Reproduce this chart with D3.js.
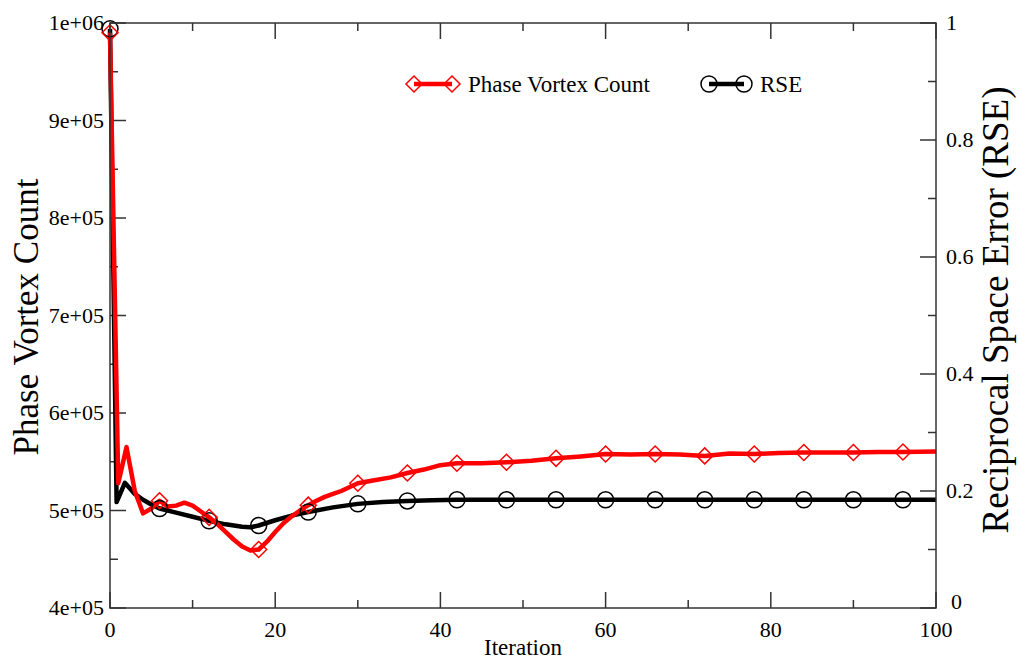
<!DOCTYPE html>
<html><head><meta charset="utf-8">
<script src="https://cdn.jsdelivr.net/npm/d3@7/dist/d3.min.js"></script>
<style>html,body{margin:0;padding:0;background:#fff;}svg{display:block;}svg text{font-family:"Liberation Serif","DejaVu Serif",serif;}</style>
</head><body>
<svg id="chart" width="1018" height="659"></svg>
<script>
// ---- data ----
const pvcIter = [0,1,2,3,4,5,6,7,8,9,10,11,12,13,14,15,16,17,18,19,20,21,22,23,24,25,26,27,28,30,32,34,36,38,40,42,45,48,51,54,57,60,63,66,69,72,75,78,81,84,87,90,93,96,100];
const pvcVal  = [990000,528000,565000,520000,497000,502000,510000,504000,505000,508000,505000,499000,493000,486000,478000,470000,463000,459000,460000,468000,478000,487000,494000,500000,505500,510000,514000,517000,520000,528000,531000,534000,538500,542000,546500,548500,548500,549500,551000,553500,555500,558000,557500,558000,557500,556000,558500,558000,559000,559500,559500,559500,560000,560000,560500];
const rseIter = [0,0.8,1.8,3,4,5,6,8,10,12,14,16,17,18,20,22,24,27,30,33,36,39,42,48,54,60,66,72,78,84,90,96,100];
const rseVal  = [0.99,0.181,0.214,0.195,0.185,0.177,0.170,0.163,0.156,0.149,0.143,0.139,0.138,0.141,0.150,0.158,0.164,0.172,0.178,0.181,0.183,0.184,0.185,0.185,0.185,0.185,0.185,0.185,0.185,0.185,0.185,0.185,0.185];
const markerStep = 6;
const xTicks = [0,20,40,60,80,100];
const yLeftTicks = [400000,500000,600000,700000,800000,900000,1000000];
const yLeftLabels = ["4e+05","5e+05","6e+05","7e+05","8e+05","9e+05","1e+06"];
const yRightTicks = [0,0.2,0.4,0.6,0.8,1];
const yRightLabels = ["0","0.2","0.4","0.6","0.8","1"];
const seriesNames = ["Phase Vortex Count","RSE"];
const axisTitles = {x:"Iteration", yLeft:"Phase Vortex Count", yRight:"Reciprocal Space Error (RSE)"};

// ---- layout ----
const FONT = "Liberation Serif";
const L=110, R=936, T=23, B=608;
const svg = d3.select("#chart");
const x = d3.scaleLinear().domain([0,100]).range([L,R]);
const yL = d3.scaleLinear().domain([400000,1000000]).range([B,T]);
const yR = d3.scaleLinear().domain([0,1]).range([B,T]);
const frameColor = "#333";
const major = 16, minor = 8;

// ticks
const g = svg.append("g").attr("stroke",frameColor).attr("stroke-width",1.5);
function tickLines(vals, fn, len){ vals.forEach(v=>fn(v,len)); }
const xMinor = d3.range(10,100,20);
tickLines(xTicks, (v,l)=>{ g.append("line").attr("x1",x(v)).attr("x2",x(v)).attr("y1",B).attr("y2",B-l);
  g.append("line").attr("x1",x(v)).attr("x2",x(v)).attr("y1",T).attr("y2",T+l);}, major);
tickLines(xMinor, (v,l)=>{ g.append("line").attr("x1",x(v)).attr("x2",x(v)).attr("y1",B).attr("y2",B-l);
  g.append("line").attr("x1",x(v)).attr("x2",x(v)).attr("y1",T).attr("y2",T+l);}, minor);
tickLines(yLeftTicks, (v,l)=>g.append("line").attr("x1",L).attr("x2",L+l).attr("y1",yL(v)).attr("y2",yL(v)), major);
tickLines(d3.range(450000,1000000,100000), (v,l)=>g.append("line").attr("x1",L).attr("x2",L+l).attr("y1",yL(v)).attr("y2",yL(v)), minor);
tickLines(yRightTicks, (v,l)=>g.append("line").attr("x1",R).attr("x2",R-l).attr("y1",yR(v)).attr("y2",yR(v)), major);
tickLines(d3.range(0.1,1,0.2), (v,l)=>g.append("line").attr("x1",R).attr("x2",R-l).attr("y1",yR(v)).attr("y2",yR(v)), minor);

// series
const pvc = pvcIter.map((it,i)=>({x:it,y:pvcVal[i]}));
const rse = rseIter.map((it,i)=>({x:it,y:rseVal[i]}));
const lineL = d3.line().x(d=>x(d.x)).y(d=>yL(d.y));
const lineR = d3.line().x(d=>x(d.x)).y(d=>yR(d.y));

svg.append("path").datum(rse).attr("d",lineR).attr("fill","none").attr("stroke","#000").attr("stroke-width",4.5).attr("stroke-linejoin","round");
svg.append("path").datum(pvc).attr("d",lineL).attr("fill","none").attr("stroke","#f00").attr("stroke-width",4.5).attr("stroke-linejoin","round");

const diamond = (cx,cy,s)=>`M${cx},${cy-s}L${cx+s},${cy}L${cx},${cy+s}L${cx-s},${cy}Z`;
svg.append("g").selectAll("circle").data(rse.filter(d=>d.x%markerStep===0)).join("circle")
  .attr("cx",d=>x(d.x)).attr("cy",d=>yR(d.y)).attr("r",8).attr("fill","none").attr("stroke","#000").attr("stroke-width",1.5);
svg.append("g").selectAll("path").data(pvc.filter(d=>d.x%markerStep===0)).join("path")
  .attr("d",d=>diamond(x(d.x),yL(d.y),8)).attr("fill","none").attr("stroke","#f00").attr("stroke-width",1.5);

// frame
svg.append("rect").attr("x",L).attr("y",T).attr("width",R-L).attr("height",B-T).attr("fill","none").attr("stroke",frameColor).attr("stroke-width",1.5);

// tick labels
const fs = 22;
const txt = (sel)=>sel.attr("font-family",FONT).attr("fill","#000");
txt(svg.append("g").selectAll("text").data(xTicks).join("text").attr("x",d=>x(d)).attr("y",B+29)
  .attr("text-anchor","middle").attr("font-size",fs).text(d=>d));
txt(svg.append("g").selectAll("text").data(yLeftTicks).join("text").attr("x",L-6).attr("y",d=>yL(d)+7)
  .attr("text-anchor","end").attr("font-size",fs).text((d,i)=>yLeftLabels[i]));
txt(svg.append("g").selectAll("text").data(yRightTicks).join("text").attr("x",(d,i)=>R+10+(i===0?5:0)).attr("y",(d,i)=>yR(d)+7-(i===0?6:0))
  .attr("text-anchor","start").attr("font-size",fs).text((d,i)=>yRightLabels[i]));

// axis titles
txt(svg.append("text").attr("x",x(50)).attr("y",655).attr("text-anchor","middle").attr("font-size",23).text(axisTitles.x));
txt(svg.append("text").attr("transform",`translate(38,317) rotate(-90)`).attr("text-anchor","middle").attr("font-size",35).text(axisTitles.yLeft));
txt(svg.append("text").attr("transform",`translate(1008,310) rotate(-90)`).attr("text-anchor","middle").attr("font-size",37).text(axisTitles.yRight));

// legend
const lg = svg.append("g");
const ly = 84;
lg.append("line").attr("x1",414).attr("x2",452).attr("y1",ly).attr("y2",ly).attr("stroke","#f00").attr("stroke-width",4.5);
[414,452].forEach(cx=>lg.append("path").attr("d",diamond(cx,ly,8)).attr("fill","none").attr("stroke","#f00").attr("stroke-width",1.5));
txt(lg.append("text").attr("x",468).attr("y",ly+8).attr("font-size",23).text(seriesNames[0]));
lg.append("line").attr("x1",709).attr("x2",744).attr("y1",ly).attr("y2",ly).attr("stroke","#000").attr("stroke-width",4.5);
[709,744].forEach(cx=>lg.append("circle").attr("cx",cx).attr("cy",ly).attr("r",8).attr("fill","none").attr("stroke","#000").attr("stroke-width",1.5));
txt(lg.append("text").attr("x",760).attr("y",ly+8).attr("font-size",23).text(seriesNames[1]));
</script>
</body></html>
